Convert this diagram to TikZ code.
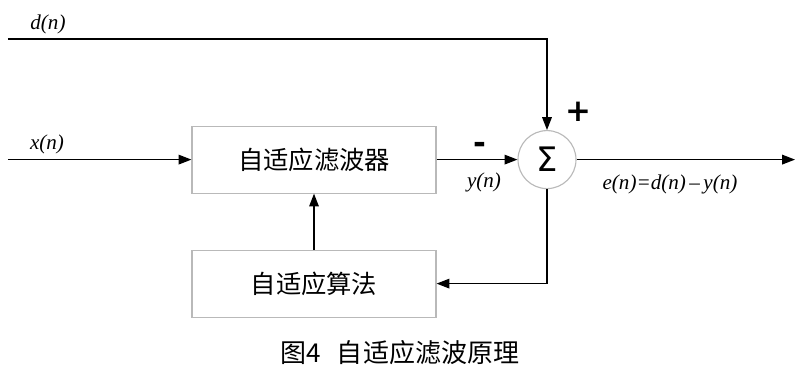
\documentclass[tikz,border=0pt]{standalone}
\usepackage{fontspec}
\newfontfamily\cjk{Noto Sans CJK SC}
\newfontfamily\sigmafont{DejaVu Sans}
\newfontfamily\tnr{Liberation Serif}
\usepackage{tikz}
\usetikzlibrary{positioning, calc, arrows.meta}

\tikzset{
    block/.style={draw=gray!55, line width=0.8pt, minimum width=6.1cm, minimum height=1.675cm, font=\cjk\fontsize{18}{20}\selectfont},
    sumnode/.style={draw=gray!55, line width=0.8pt, circle, minimum size=1.45cm, inner sep=0pt},
    sig/.style={font=\tnr\itshape\fontsize{15}{17}\selectfont},
    sign/.style={font=\sigmafont\bfseries\fontsize{22}{24}\selectfont},
    wire/.style={line width=0.9pt, -{Triangle[length=3.2mm, width=2.4mm]}}
}

\begin{document}
\begin{tikzpicture}[line width=0.9pt]
            \useasboundingbox (0,0) rectangle (20,9.4);

            % Blocks
            \node[block] (filter) at (7.85, 5.41) {自适应滤波器};
            \node[block] (algo) at (7.85, 2.31) {自适应算法};
            \node[sumnode] (sum) at (13.675, 5.41) {\sigmafont\fontsize{24}{26}\selectfont Σ};

            % Free ends of the wires
            \coordinate (din) at (0.2, 8.425);
            \coordinate (dcorner) at (sum |- din);
            \coordinate (xin) at (0.2, 5.41);
            \coordinate (eout) at (19.875, 5.41);
            \coordinate (fbcorner) at (sum |- algo);

            % Wires
            \draw[wire] (din) -- (dcorner) -- (sum.north);
            \draw[wire] (xin) -- (filter.west);
            \draw[wire] (filter.east) -- (sum.west);
            \draw[wire] (sum.east) -- (eout);
            \draw[wire] (algo.north) -- (filter.south);
            \draw[wire] (sum.south) -- (fbcorner) -- (algo.east);

            % Labels
            \node[sig] (dlabel) at (1.2, 8.8) {d(n)};
            \node[sig] (xlabel) at (1.175, 5.79) {x(n)};
            \node[sig] (ylabel) at (12.1, 4.85) {y(n)};
            \node[sig] (elabel) at (16.75, 4.78) {e(n)=d(n)\,\upshape–\,\itshape y(n)};
            \node[sign] (plus) at (14.45, 6.6) {+};
            \node[sign] (minus) at (12.0, 5.7) {-};

            % Caption
            \node[font=\cjk\fontsize{18.5}{21}\selectfont] (caption) at (10, 0.575) {图4\hspace{0.6em}自适应滤波原理};

        \end{tikzpicture}
\end{document}
